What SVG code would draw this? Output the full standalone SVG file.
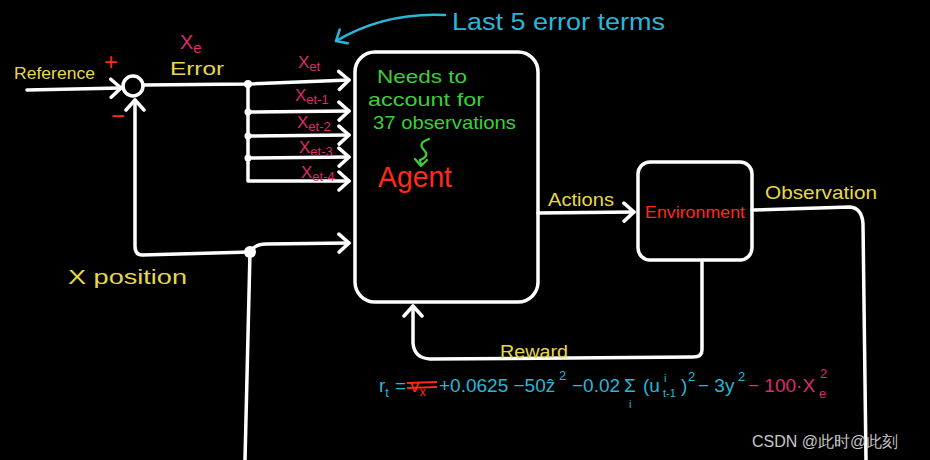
<svg xmlns="http://www.w3.org/2000/svg" width="930" height="460" viewBox="0 0 930 460">
<defs>
<style>
text{font-family:"Liberation Sans","DejaVu Sans",sans-serif}
.y{fill:#e6d84a}
.g{fill:#3ccf3a}
.r{fill:#ff2a18}
.m{fill:#dc2c6a}
.c{fill:#2ab6d8}
.w{fill:none;stroke:#fff;stroke-width:3.5;stroke-linecap:round;stroke-linejoin:round}
.dot{fill:#fff}
</style>
<marker id="ah" markerUnits="userSpaceOnUse" markerWidth="24" markerHeight="24" refX="12" refY="12" orient="auto">
<path d="M2,3 L12,12 L2,21" fill="none" stroke="#fff" stroke-width="3.5" stroke-linecap="round" stroke-linejoin="round"/>
</marker>
<marker id="ahc" markerUnits="userSpaceOnUse" markerWidth="24" markerHeight="24" refX="12" refY="12" orient="auto">
<path d="M3,4 L12,12 L3,20" fill="none" stroke="#2ab6d8" stroke-width="2.5" stroke-linecap="round" stroke-linejoin="round"/>
</marker>
</defs>
<rect width="930" height="460" fill="#000"/>

<g id="connectors">
<path class="w" d="M27,90 L121,88" marker-end="url(#ah)"/>
<path class="w" d="M143,85 L248,84 L349,80" marker-end="url(#ah)"/>
<path class="w" d="M248,84 L248,181 L349,181" marker-end="url(#ah)"/>
<path class="w" d="M248,112 L349,111" marker-end="url(#ah)"/>
<path class="w" d="M248,136 L349,135" marker-end="url(#ah)"/>
<path class="w" d="M248,158 L349,157" marker-end="url(#ah)"/>
<path class="w" d="M250,252 L142,255 Q135,255 135,246 L135,100" marker-end="url(#ah)"/>
<path class="w" d="M245,460 L250,252"/>
<path class="w" d="M250,252 Q255,244 266,244 L349,243" marker-end="url(#ah)"/>
<path class="w" d="M538,213 L634,212" marker-end="url(#ah)"/>
<path class="w" d="M752,210 L850,207 Q862,208 863,224 L866,460"/>
<path class="w" d="M702,262 L702,350 Q702,357 693,357 L430,359 Q414,358 413,343 L413,306" marker-end="url(#ah)"/>
<circle class="dot" cx="248" cy="84" r="4"/>
<circle class="dot" cx="248" cy="112" r="3.5"/>
<circle class="dot" cx="248" cy="136" r="3.5"/>
<circle class="dot" cx="248" cy="158" r="3.5"/>
<circle class="dot" cx="250" cy="252" r="6"/>
<path d="M445,15 Q385,12 336,41" fill="none" stroke="#2ab6d8" stroke-width="2.5" stroke-linecap="round" marker-end="url(#ahc)"/>
</g>

<g id="sum">
<circle class="w" cx="133" cy="86" r="10"/>
<text x="104" y="70" class="r" font-size="24">+</text>
<text x="111" y="124" class="r" font-size="24">−</text>
</g>

<g id="agent">
<rect class="w" x="355" y="52" width="183" height="250" rx="20"/>
<text class="g" font-size="19" x="377" y="83" textLength="90" lengthAdjust="spacingAndGlyphs">Needs to</text>
<text class="g" font-size="19" x="368" y="106" textLength="116" lengthAdjust="spacingAndGlyphs">account for</text>
<text class="g" font-size="19" x="373" y="129" textLength="143" lengthAdjust="spacingAndGlyphs">37 observations</text>
<path d="M429,139 Q417,143 424,150 Q430,156 420,160 L421,165" fill="none" stroke="#3ccf3a" stroke-width="2.2" stroke-linecap="round"/>
<path d="M415,159 L421,166 L427,160" fill="none" stroke="#3ccf3a" stroke-width="2.2" stroke-linecap="round" stroke-linejoin="round"/>
<text class="r" font-size="29" x="378" y="187" textLength="74" lengthAdjust="spacingAndGlyphs">Agent</text>
</g>

<g id="environment">
<rect class="w" x="638" y="162" width="114" height="98" rx="12"/>
<text class="r" font-size="17" x="645" y="218" textLength="100" lengthAdjust="spacingAndGlyphs">Environment</text>
</g>

<g id="labels">
<text class="y" font-size="17" x="14" y="79" textLength="81" lengthAdjust="spacingAndGlyphs">Reference</text>
<text class="m" font-size="20" x="180" y="49">X<tspan font-size="15" dy="4">e</tspan></text>
<text class="y" font-size="19" x="170" y="75" textLength="54" lengthAdjust="spacingAndGlyphs">Error</text>
<text class="m" font-size="17" x="298" y="68">X<tspan font-size="13" dy="3">et</tspan></text>
<text class="m" font-size="17" x="295" y="101">X<tspan font-size="13" dy="3">et-1</tspan></text>
<text class="m" font-size="17" x="297" y="128">X<tspan font-size="13" dy="3">et-2</tspan></text>
<text class="m" font-size="17" x="299" y="153">X<tspan font-size="13" dy="3">et-3</tspan></text>
<text class="m" font-size="17" x="301" y="178">X<tspan font-size="13" dy="3">et-4</tspan></text>
<text class="c" font-size="23" x="452" y="30" textLength="213" lengthAdjust="spacingAndGlyphs">Last 5 error terms</text>
<text class="y" font-size="20" x="68" y="284" textLength="119" lengthAdjust="spacingAndGlyphs">X position</text>
<text class="y" font-size="18" x="548" y="206" textLength="66" lengthAdjust="spacingAndGlyphs">Actions</text>
<text class="y" font-size="19" x="765" y="199" textLength="112" lengthAdjust="spacingAndGlyphs">Observation</text>
<text class="y" font-size="18" x="500" y="358" textLength="68" lengthAdjust="spacingAndGlyphs">Reward</text>
</g>

<g id="formula">
<text class="c" font-size="19" x="379" y="392">r<tspan font-size="13" dy="5">t</tspan></text>
<text class="c" font-size="19" x="395" y="392">=</text>
<text class="r" font-size="19" x="410" y="392">v<tspan font-size="13" dy="4">x</tspan></text>
<path d="M407,383 L437,382 M407,388 L437,387" stroke="#ff2a18" stroke-width="2" fill="none"/>
<text class="c" font-size="19" x="439" y="392">+0.0625 −50ẑ</text>
<text class="c" font-size="13" x="559" y="380">2</text>
<text class="c" font-size="19" x="572" y="392">−0.02</text>
<text class="c" font-size="19" x="624" y="392">Σ</text>
<text class="c" font-size="11" x="629" y="408">i</text>
<text class="c" font-size="19" x="643" y="392">(u</text>
<text class="c" font-size="11" x="664" y="382">i</text>
<text class="c" font-size="11" x="663" y="397">t-1</text>
<text class="c" font-size="19" x="681" y="392">)</text>
<text class="c" font-size="13" x="688" y="381">2</text>
<text class="c" font-size="19" x="698" y="392">− 3y</text>
<text class="c" font-size="13" x="738" y="381">2</text>
<text class="m" font-size="19" x="748" y="392">− 100·X</text>
<text class="m" font-size="13" x="819" y="398">e</text>
<text class="m" font-size="13" x="820" y="378">2</text>
</g>

<text x="752" y="447" font-size="16" fill="#c8c8c8" font-family="Liberation Sans, Noto Sans CJK SC, sans-serif">CSDN @此时@此刻</text>
</svg>
